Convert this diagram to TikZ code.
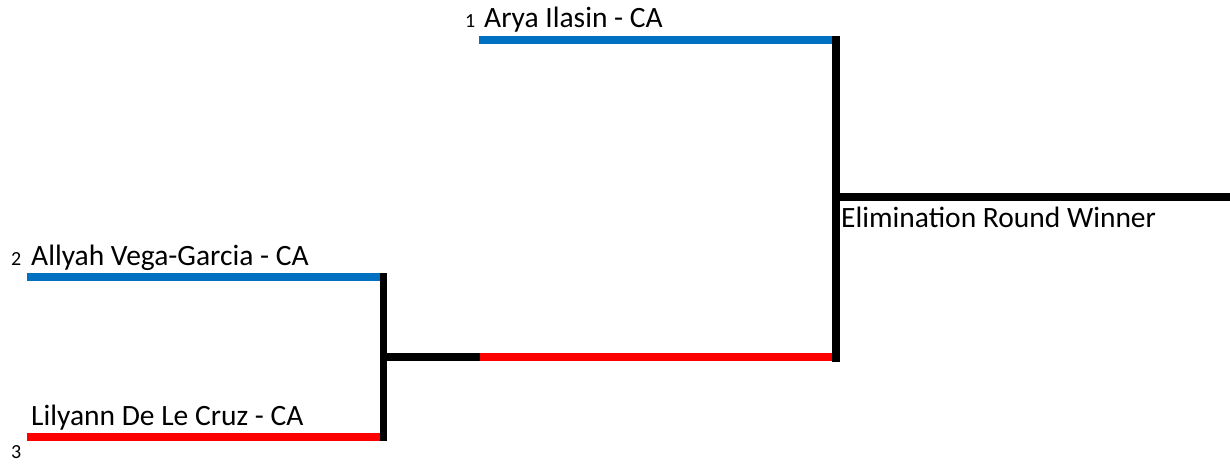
\documentclass[tikz,border=0pt]{standalone}
\usepackage{fontspec}
\setmainfont{Carlito}
\definecolor{xblue}{HTML}{0070C0}
\definecolor{xred}{HTML}{FF0000}
\tikzset{
  bar/.style={line width=8pt},
  bluebar/.style={bar, xblue},
  redbar/.style={bar, xred},
  blackbar/.style={bar, black},
  playerlbl/.style={anchor=base west, inner sep=0pt, font=\fontsize{29.5}{33}\selectfont},
  seedlbl/.style={anchor=base west, inner sep=0pt, font=\fontsize{20}{23}\selectfont},
}
\begin{document}
\begin{tikzpicture}[x=1pt,y=-1pt]
\useasboundingbox (0,0) rectangle (1230,466);
% coordinates
\coordinate (a1) at (479,40);
\coordinate (a2) at (832,40);
\coordinate (b1) at (27,277);
\coordinate (b2) at (380,277);
\coordinate (c1) at (27,437);
\coordinate (c2) at (380,437);
\coordinate (lvt) at (383.5,273);
\coordinate (lvb) at (383.5,441);
\coordinate (m1) at (387,357);
\coordinate (m2) at (480,357);
\coordinate (m3) at (832,357);
\coordinate (rvt) at (836,36);
\coordinate (rvb) at (836,362);
\coordinate (w1) at (840,197);
\coordinate (w2) at (1230,197);
% bars
\draw[bluebar] (a1) -- (a2);
\draw[bluebar] (b1) -- (b2);
\draw[redbar] (c1) -- (c2);
\draw[blackbar] (m1) -- (m2);
\draw[redbar] (m2) -- (m3);
\draw[blackbar] (w1) -- (w2);
\draw[blackbar, line width=7pt] (lvt) -- (lvb);
\draw[blackbar] (rvt) -- (rvb);
% labels
\node[seedlbl] (s1) at (465,27) {1};
\node[playerlbl] (n1) at (484,27) {Arya Ilasin - CA};
\node[seedlbl] (s2) at (11,265) {2};
\node[playerlbl] (n2) at (31,265) {Allyah Vega-Garcia - CA};
\node[playerlbl] (n3) at (31,425) {Lilyann De Le Cruz - CA};
\node[seedlbl] (s3) at (11,458) {3};
\node[playerlbl] (nw) at (841,227) {Elimination Round Winner};
\end{tikzpicture}
\end{document}
